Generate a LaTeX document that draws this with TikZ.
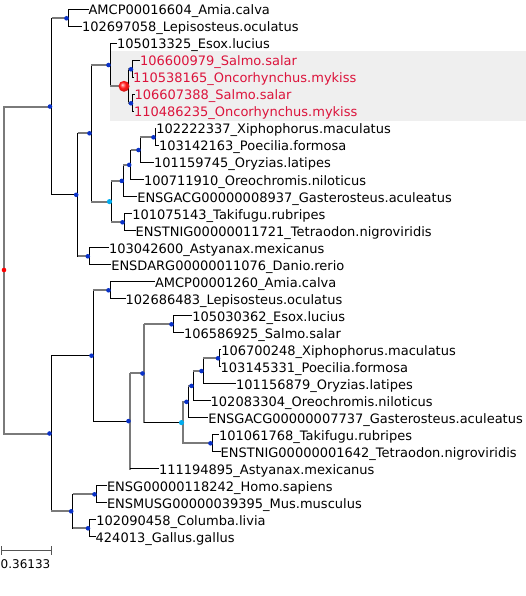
\documentclass[tikz,border=0pt]{standalone}
\usepackage{fontspec}
\setmainfont{DejaVu Sans}
\definecolor{dotblue}{HTML}{0A32C8}
\definecolor{salmred}{HTML}{DC143C}
\definecolor{hlgray}{HTML}{EFEFEF}
\definecolor{brgray}{HTML}{7A7A7A}
\definecolor{sbgray}{HTML}{555555}
\definecolor{ballred}{HTML}{FF1A1A}
\pgfdeclareradialshading{redball}{\pgfqpoint{-8bp}{8bp}}{color(0bp)=(white); color(4bp)=(white!55!ballred); color(14bp)=(ballred); color(28bp)=(ballred!80!black); color(50bp)=(ballred!55!black)}
\newcommand\lf[5]{\coordinate (t#1) at (#2,#3);
  \node[#5] (l#1) at ([yshift=-5.2bp]t#1) {#4};}
\tikzset{
  vline/.style={black, line width=1bp, line cap=rect},
  vgray/.style={brgray, line width=1.6bp, line cap=rect},
  vroot/.style={brgray, line width=2bp, line cap=rect},
  hline/.style={brgray, line width=2bp},
  hblack/.style={black, line width=1bp},
  leafline/.style={black, line width=1bp},
  leaf/.style={anchor=base west, inner sep=0pt, outer sep=0pt, font=\fontsize{13bp}{15bp}\selectfont},
  dupleaf/.style={leaf, text=salmred},
  ndot/.style={circle, fill=dotblue, inner sep=0pt, minimum size=4.6bp},
  cdot/.style={circle, fill=cyan, inner sep=0pt, minimum size=5.2bp},
  rdot/.style={circle, fill=red, inner sep=0pt, minimum size=4.6bp},
  dupball/.style={circle, inner sep=0pt, minimum size=11bp, shading=redball},
  scalebar/.style={sbgray, line width=1bp},
}
\begin{document}
\begin{tikzpicture}[x=1bp,y=-1bp]
\useasboundingbox (0,0) rectangle (526,596);
\fill[hlgray] (110,51) rectangle (526,121);
% internal nodes
\coordinate (root) at (4.3,270);
\coordinate (N1) at (51.5,106.55);
\coordinate (A) at (68,18.3);
\coordinate (G) at (77.7,194.8);
\coordinate (B) at (91,133.3);
\coordinate (Salm) at (110,65.05);
\coordinate (Red) at (128.3,86.3);
\coordinate (S1) at (132.5,69.3);
\coordinate (S2) at (132.5,103.3);
\coordinate (Cy) at (111,201.6);
\coordinate (C) at (123.3,180.9);
\coordinate (D) at (130.7,164.9);
\coordinate (E) at (140,150.05);
\coordinate (F) at (155,137.3);
\coordinate (T) at (124,222.3);
\coordinate (AD) at (89.3,256.3);
\coordinate (L1) at (51,433.5);
\coordinate (L2) at (93,355.7);
\coordinate (A2) at (110,290.3);
\coordinate (L3) at (130,421.1);
\coordinate (H) at (144,373.45);
\coordinate (ES2) at (173,324.3);
\coordinate (Cy2) at (183,422.6);
\coordinate (C2) at (188,401.85);
\coordinate (D2) at (193,385.9);
\coordinate (E2) at (203,371.05);
\coordinate (F2) at (219.5,358.3);
\coordinate (T2) at (212,443.3);
\coordinate (MB) at (72.7,511.3);
\coordinate (M) at (96,494.3);
\coordinate (Bd) at (89.5,528.3);
% leaves
\lf{0}{88.6}{9.8}{AMCP00016604\_Amia.calva}{leaf}
\lf{1}{82}{26.8}{102697058\_Lepisosteus.oculatus}{leaf}
\lf{2}{117}{43.8}{105013325\_Esox.lucius}{leaf}
\lf{3}{140}{60.8}{106600979\_Salmo.salar}{dupleaf}
\lf{4}{133}{77.8}{110538165\_Oncorhynchus.mykiss}{dupleaf}
\lf{5}{134.5}{94.8}{106607388\_Salmo.salar}{dupleaf}
\lf{6}{134}{111.8}{110486235\_Oncorhynchus.mykiss}{dupleaf}
\lf{7}{156.3}{128.8}{102222337\_Xiphophorus.maculatus}{leaf}
\lf{8}{159}{145.8}{103142163\_Poecilia.formosa}{leaf}
\lf{9}{154}{162.8}{101159745\_Oryzias.latipes}{leaf}
\lf{10}{144}{179.8}{100711910\_Oreochromis.niloticus}{leaf}
\lf{11}{137.3}{196.8}{ENSGACG00000008937\_Gasterosteus.aculeatus}{leaf}
\lf{12}{132.3}{213.8}{101075143\_Takifugu.rubripes}{leaf}
\lf{13}{135.7}{230.8}{ENSTNIG00000011721\_Tetraodon.nigroviridis}{leaf}
\lf{14}{109}{247.8}{103042600\_Astyanax.mexicanus}{leaf}
\lf{15}{111.3}{264.8}{ENSDARG00000011076\_Danio.rerio}{leaf}
\lf{16}{155}{281.8}{AMCP00001260\_Amia.calva}{leaf}
\lf{17}{125.7}{298.8}{102686483\_Lepisosteus.oculatus}{leaf}
\lf{18}{192.3}{315.8}{105030362\_Esox.lucius}{leaf}
\lf{19}{184}{332.8}{106586925\_Salmo.salar}{leaf}
\lf{20}{221.3}{349.8}{106700248\_Xiphophorus.maculatus}{leaf}
\lf{21}{220.7}{366.8}{103145331\_Poecilia.formosa}{leaf}
\lf{22}{236}{383.8}{101156879\_Oryzias.latipes}{leaf}
\lf{23}{210.7}{400.8}{102083304\_Oreochromis.niloticus}{leaf}
\lf{24}{208.3}{417.8}{ENSGACG00000007737\_Gasterosteus.aculeatus}{leaf}
\lf{25}{219}{434.8}{101061768\_Takifugu.rubripes}{leaf}
\lf{26}{220.7}{451.8}{ENSTNIG00000001642\_Tetraodon.nigroviridis}{leaf}
\lf{27}{159}{468.8}{111194895\_Astyanax.mexicanus}{leaf}
\lf{28}{107}{485.8}{ENSG00000118242\_Homo.sapiens}{leaf}
\lf{29}{107}{502.8}{ENSMUSG00000039395\_Mus.musculus}{leaf}
\lf{30}{96.3}{519.8}{102090458\_Columba.livia}{leaf}
\lf{31}{95.7}{536.8}{424013\_Gallus.gallus}{leaf}
% branches: root
\draw[hline] (root |- N1) -- (N1);
\draw[hline] (root |- L1) -- (L1);
\draw[vroot] (root |- N1) -- (root |- L1);
% N1
\draw[vline] (N1 |- A) -- (N1 |- G);
\draw[hline] (N1 |- A) -- (A);
\draw[hblack] (N1 |- G) -- (G);
% A
\draw[vline] (A |- t0) -- (A |- t1);
\draw[leafline] (A |- t0) -- (t0);
\draw[leafline] (A |- t1) -- (t1);
% G
\draw[vline] (G |- B) -- (G |- AD);
\draw[hline] (G |- B) -- (B);
\draw[hline] (G |- AD) -- (AD);
% B
\draw[vline] (B |- Salm) -- (B |- Cy);
\draw[hline] (B |- Salm) -- (Salm);
\draw[hline] (B |- Cy) -- (Cy);
% Salm
\draw[vline] (Salm |- t2) -- (Salm |- Red);
\draw[leafline] (Salm |- t2) -- (t2);
\draw[hline] (Salm |- Red) -- (Red);
% Red
\draw[vline] (Red |- S1) -- (Red |- S2);
\draw[hline] (Red |- S1) -- (S1);
\draw[hline] (Red |- S2) -- (S2);
% S1, S2
\draw[vline] (S1 |- t3) -- (S1 |- t4);
\draw[leafline] (S1 |- t3) -- (t3);
\draw[leafline] (S1 |- t4) -- (t4);
\draw[vline] (S2 |- t5) -- (S2 |- t6);
\draw[leafline] (S2 |- t5) -- (t5);
\draw[leafline] (S2 |- t6) -- (t6);
% Cy
\draw[vline] (Cy |- C) -- (Cy |- T);
\draw[hline] (Cy |- C) -- (C);
\draw[hline] (Cy |- T) -- (T);
% C
\draw[vline] (C |- D) -- (C |- t11);
\draw[hline] (C |- D) -- (D);
\draw[leafline] (C |- t11) -- (t11);
% D
\draw[vline] (D |- E) -- (D |- t10);
\draw[hline] (D |- E) -- (E);
\draw[leafline] (D |- t10) -- (t10);
% E
\draw[vline] (E |- F) -- (E |- t9);
\draw[hline] (E |- F) -- (F);
\draw[leafline] (E |- t9) -- (t9);
% F
\draw[vline] (F |- t7) -- (F |- t8);
\draw[leafline] (F |- t7) -- (t7);
\draw[leafline] (F |- t8) -- (t8);
% T
\draw[vline] (T |- t12) -- (T |- t13);
\draw[leafline] (T |- t12) -- (t12);
\draw[leafline] (T |- t13) -- (t13);
% AD
\draw[vline] (AD |- t14) -- (AD |- t15);
\draw[leafline] (AD |- t14) -- (t14);
\draw[leafline] (AD |- t15) -- (t15);
% L1
\draw[vline] (L1 |- L2) -- (L1 |- MB);
\draw[hblack] (L1 |- L2) -- (L2);
\draw[hline] (L1 |- MB) -- (MB);
% L2
\draw[vline] (L2 |- A2) -- (L2 |- L3);
\draw[hline] (L2 |- A2) -- (A2);
\draw[hblack] (L2 |- L3) -- (L3);
% A2
\draw[vline] (A2 |- t16) -- (A2 |- t17);
\draw[leafline] (A2 |- t16) -- (t16);
\draw[leafline] (A2 |- t17) -- (t17);
% L3
\draw[vgray] (L3 |- H) -- (L3 |- t27);
\draw[hline] (L3 |- H) -- (H);
\draw[leafline] (L3 |- t27) -- (t27);
% H
\draw[vgray] (H |- ES2) -- (H |- Cy2);
\draw[hline] (H |- ES2) -- (ES2);
\draw[hblack] (H |- Cy2) -- (Cy2);
% ES2
\draw[vline] (ES2 |- t18) -- (ES2 |- t19);
\draw[leafline] (ES2 |- t18) -- (t18);
\draw[leafline] (ES2 |- t19) -- (t19);
% Cy2
\draw[vgray] (Cy2 |- C2) -- (Cy2 |- T2);
\draw[hline] (Cy2 |- C2) -- (C2);
\draw[hline] (Cy2 |- T2) -- (T2);
% C2
\draw[vline] (C2 |- D2) -- (C2 |- t24);
\draw[hline] (C2 |- D2) -- (D2);
\draw[leafline] (C2 |- t24) -- (t24);
% D2
\draw[vline] (D2 |- E2) -- (D2 |- t23);
\draw[hline] (D2 |- E2) -- (E2);
\draw[leafline] (D2 |- t23) -- (t23);
% E2
\draw[vline] (E2 |- F2) -- (E2 |- t22);
\draw[hline] (E2 |- F2) -- (F2);
\draw[leafline] (E2 |- t22) -- (t22);
% F2
\draw[vline] (F2 |- t20) -- (F2 |- t21);
\draw[leafline] (F2 |- t20) -- (t20);
\draw[leafline] (F2 |- t21) -- (t21);
% T2
\draw[vline] (T2 |- t25) -- (T2 |- t26);
\draw[leafline] (T2 |- t25) -- (t25);
\draw[leafline] (T2 |- t26) -- (t26);
% MB
\draw[vline] (MB |- M) -- (MB |- Bd);
\draw[hline] (MB |- M) -- (M);
\draw[hline] (MB |- Bd) -- (Bd);
% M
\draw[vline] (M |- t28) -- (M |- t29);
\draw[leafline] (M |- t28) -- (t28);
\draw[leafline] (M |- t29) -- (t29);
% Bd
\draw[vline] (Bd |- t30) -- (Bd |- t31);
\draw[leafline] (Bd |- t30) -- (t30);
\draw[leafline] (Bd |- t31) -- (t31);
% node faces
\foreach \n in {N1,A,G,B,Salm,S1,S2,C,D,E,F,T,AD,L1,L2,A2,L3,H,ES2,C2,D2,E2,F2,T2,MB,M,Bd}
  \node[ndot] (d\n) at ([xshift=-1.5bp]\n) {};
\node[cdot] (dCy) at ([xshift=-1.5bp]Cy) {};
\node[cdot] (dCy2) at ([xshift=-1.5bp]Cy2) {};
\node[rdot] (droot) at ([xshift=-0.3bp]root) {};
\node[dupball] (dRed) at ([xshift=-4.3bp]Red) {};
% scale bar
\coordinate (sbL) at (1,550.7);
\coordinate (sbR) at (51,550.7);
\draw[scalebar] (sbL) -- (sbR);
\draw[scalebar] ([yshift=4.5bp]sbL) -- ([yshift=-4.5bp]sbL);
\draw[scalebar] ([yshift=4.5bp]sbR) -- ([yshift=-4.5bp]sbR);
\node[anchor=base west, inner sep=0pt, font=\fontsize{12bp}{14bp}\selectfont] (sblabel) at (0.5,568.3) {0.36133};
\end{tikzpicture}
\end{document}
